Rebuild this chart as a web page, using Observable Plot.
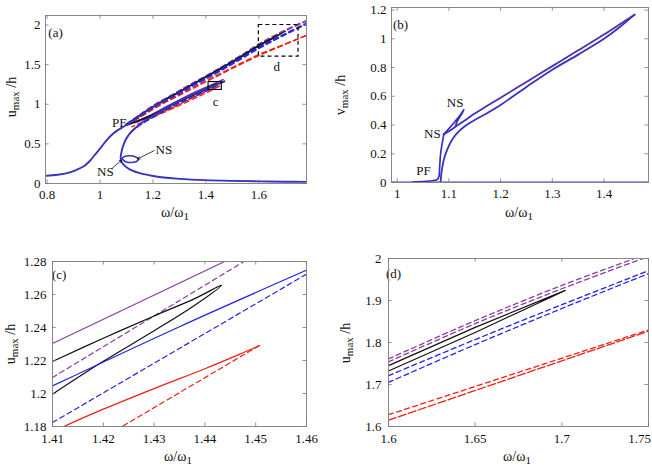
<!DOCTYPE html>
<html><head><meta charset="utf-8">
<script src="https://cdn.jsdelivr.net/npm/d3@7"></script>
<script src="https://cdn.jsdelivr.net/npm/@observablehq/plot@0.6"></script>
<style>
html,body{margin:0;padding:0;background:#fff;overflow:hidden;}
#wrap{position:relative;width:652px;height:467px;overflow:hidden;font-family:"Liberation Serif","Times New Roman",serif;}
.panel{position:absolute;}
.lab{position:absolute;font-size:14px;white-space:nowrap;color:#111;line-height:1;}
.ylab{transform:translate(-50%,-50%) rotate(-90deg);}
.xlab{transform:translate(-50%,-50%);}
.lab sub{font-size:11px;vertical-align:-3px;line-height:0;}
</style></head>
<body><div id="wrap"></div>
<script>
// ---------- tick labels ----------
const aTicksX = [0.8, 1, 1.2, 1.4, 1.6];
const aTicksY = [0, 0.5, 1, 1.5, 2];
const bTicksX = [1, 1.1, 1.2, 1.3, 1.4];
const bTicksY = [0, 0.2, 0.4, 0.6, 0.8, 1, 1.2];
const cTicksX = [1.41, 1.42, 1.43, 1.44, 1.45, 1.46];
const cTicksY = [1.18, 1.2, 1.22, 1.24, 1.26, 1.28];
const dTicksX = [1.6, 1.65, 1.7, 1.75];
const dTicksY = [1.6, 1.7, 1.8, 1.9, 2];

// ---------- panel (a) data ----------
const aMainLeft = [[0.794,0.096],[0.84,0.11],[0.88,0.135],[0.91,0.17],[0.94,0.22],[0.963,0.29],[0.98,0.36],[1.0,0.44],[1.026,0.55],[1.05,0.63],[1.07,0.68],[1.09,0.72],[1.12,0.78],[1.15,0.853],[1.2,0.962],[1.25,1.058]];
const aUx      = [1.1, 1.15, 1.2, 1.25, 1.3, 1.35, 1.4, 1.45, 1.5, 1.55, 1.6, 1.65, 1.7, 1.75, 1.78];
const aPurple1 = [0.75, 0.867, 0.982, 1.077, 1.172, 1.267, 1.357, 1.452, 1.552, 1.652, 1.761, 1.852, 1.936, 2.012, 2.055];
const aPurple2 = [0.748, 0.862, 0.977, 1.072, 1.167, 1.262, 1.351, 1.446, 1.546, 1.646, 1.754, 1.845, 1.928, 2.004, 2.048];
const aBlue1   = [0.745, 0.855, 0.965, 1.058, 1.15, 1.243, 1.332, 1.425, 1.522, 1.622, 1.721, 1.807, 1.89, 1.971, 2.02];
const aBlue2   = [0.742, 0.85, 0.958, 1.05, 1.14, 1.232, 1.32, 1.412, 1.508, 1.607, 1.705, 1.795, 1.881, 1.964, 2.012];
const aRed1    = [0.745, 0.84, 0.945, 1.04, 1.125, 1.21, 1.295, 1.38, 1.465, 1.547, 1.628, 1.695, 1.762, 1.83, 1.87];
const aRed2    = [0.742, 0.835, 0.935, 1.03, 1.113, 1.198, 1.283, 1.367, 1.452, 1.534, 1.615, 1.686, 1.756, 1.827, 1.866];
const aBlackOuter = [[1.1,0.747],[1.2,0.972],[1.3,1.162],[1.4,1.352],[1.5,1.54],[1.6,1.745],[1.65,1.836],[1.702,1.924],[1.65,1.824],[1.6,1.732],[1.5,1.528],[1.4,1.34],[1.3,1.15],[1.2,0.962],[1.1,0.745]];
const aInPurple  = [[1.1,0.742],[1.15,0.8],[1.2,0.88],[1.25,0.97],[1.3,1.055],[1.35,1.14],[1.41,1.23],[1.444,1.28],[1.465,1.31]];
const aInPurpleD = [[1.465,1.31],[1.4477,1.28],[1.41,1.21],[1.35,1.118],[1.3,1.035],[1.25,0.95],[1.2,0.865],[1.15,0.785],[1.1,0.738]];
const aInBlack   = [[1.1,0.742],[1.2,0.875],[1.3,1.048],[1.41,1.219],[1.444,1.266],[1.41,1.2],[1.3,1.03],[1.2,0.862],[1.1,0.738]];
const aInRed     = [[1.1,0.738],[1.2,0.85],[1.3,1.0],[1.38,1.132],[1.412,1.18],[1.43,1.203],[1.451,1.229]];
const aInRedD    = [[1.451,1.229],[1.424,1.18],[1.38,1.11],[1.3,0.985],[1.2,0.835],[1.12,0.715]];
const aInBlueD   = [[1.47,1.29],[1.46,1.272],[1.41,1.183],[1.35,1.09],[1.3,1.015],[1.25,0.93],[1.2,0.835],[1.16,0.755],[1.13,0.685],[1.115,0.64]];
const aFold = [[1.47,1.29],[1.46,1.275],[1.41,1.205],[1.35,1.125],[1.3,1.045],[1.25,0.955],[1.2,0.855],[1.16,0.77],[1.13,0.69],[1.11,0.62],[1.095,0.54],[1.085,0.45],[1.08,0.38],[1.078,0.33],[1.08,0.28],[1.09,0.235],[1.1,0.205],[1.12,0.165],[1.15,0.13],[1.2,0.095],[1.25,0.072],[1.3,0.058],[1.4,0.042],[1.5,0.033],[1.6,0.027],[1.7,0.023],[1.78,0.02]];
const aLoop = [[1.083,0.32],[1.095,0.343],[1.113,0.35],[1.13,0.342],[1.142,0.32],[1.144,0.297],[1.135,0.275],[1.117,0.265],[1.1,0.272],[1.088,0.295],[1.083,0.32]];
const aBoxC = [1.41, 1.46, 1.18, 1.28];
const aBoxD = [1.6, 1.75, 1.6, 2.0];
const aLabels = [
  {x:0.832, y:1.9, t:"(a)", a:"start"},
  {x:1.0725, y:0.768, t:"PF", a:"middle"},
  {x:1.02, y:0.146, t:"NS", a:"middle"},
  {x:1.241, y:0.427, t:"NS", a:"middle"},
  {x:1.437, y:1.026, t:"c", a:"middle"},
  {x:1.668, y:1.47, t:"d", a:"middle"}
];
const aArrows = [
  {x1:1.2045, y1:0.415, x2:1.142, y2:0.31},
  {x1:1.045, y1:0.19, x2:1.082, y2:0.295}
];

// ---------- panel (b) data ----------
const bBase = [[0.989,0.0],[1.486,0.0]];
const bSteep = [[1.03,0.003],[1.055,0.008],[1.07,0.014],[1.078,0.022],[1.081,0.045],[1.082,0.1],[1.084,0.2],[1.087,0.27],[1.09,0.335]];
const bZig = [[1.09,0.335],[1.1,0.375],[1.112,0.425],[1.122,0.47],[1.129,0.508],[1.126,0.485],[1.121,0.455],[1.116,0.425],[1.113,0.395]];
const bUpper = [[1.09,0.335],[1.1,0.357],[1.108,0.376],[1.115,0.395],[1.13,0.43],[1.15,0.48],[1.17,0.525],[1.2,0.59],[1.25,0.7],[1.3,0.81],[1.35,0.92],[1.4,1.03],[1.43,1.1],[1.459,1.168]];
const bLower = [[1.084,0.0],[1.085,0.05],[1.087,0.1],[1.091,0.17],[1.097,0.23],[1.105,0.29],[1.115,0.34],[1.13,0.39],[1.15,0.435],[1.17,0.475],[1.2,0.54],[1.25,0.665],[1.3,0.785],[1.35,0.89],[1.4,1.0],[1.43,1.08],[1.459,1.168]];
const bLabels = [
  {x:1.0064, y:1.1, t:"(b)", a:"start"},
  {x:1.112, y:0.555, t:"NS", a:"middle"},
  {x:1.068, y:0.339, t:"NS", a:"middle"},
  {x:1.051, y:0.078, t:"PF", a:"middle"}
];

// ---------- panel (c) data ----------
const cPurple  = [[1.41,1.2303],[1.4439,1.28]];
const cPurpleD = [[1.41,1.2097],[1.4477,1.28]];
const cBlack   = [[1.41,1.2194],[1.42,1.2335],[1.43,1.247],[1.438,1.2575],[1.4433,1.2657],[1.438,1.2535],[1.43,1.238],[1.42,1.2195],[1.41,1.1996]];
const cBlue    = [[1.41,1.2046],[1.435,1.2405],[1.46,1.2747]];
const cBlueD   = [[1.41,1.1824],[1.46,1.2723]];
const cRed     = [[1.4122,1.18],[1.42,1.1905],[1.43,1.203],[1.44,1.215],[1.447,1.224],[1.4507,1.229]];
const cRedD    = [[1.4507,1.229],[1.4237,1.18]];
const cLabels  = [{x:1.4113, y:1.272, t:"(c)", a:"start"}];

// ---------- panel (d) data ----------
const dPurpleA = [[1.6,1.761],[1.65,1.852],[1.7,1.936],[1.742,2.0],[1.75,2.012]];
const dPurpleB = [[1.6,1.754],[1.65,1.845],[1.7,1.928],[1.747,2.0],[1.75,2.004]];
const dBlack   = [[1.6,1.745],[1.65,1.836],[1.702,1.924],[1.65,1.824],[1.6,1.732]];
const dBlueA   = [[1.6,1.721],[1.65,1.807],[1.7,1.89],[1.75,1.971]];
const dBlueB   = [[1.6,1.705],[1.65,1.795],[1.7,1.881],[1.75,1.964]];
const dRedA    = [[1.6,1.628],[1.75,1.83]];
const dRedB    = [[1.6,1.615],[1.75,1.827]];
const dLabels  = [{x:1.6029, y:1.964, t:"(d)", a:"start"}];

// ---------- styles ----------
const BLUEMAIN = "#3632c2", BLUE = "#2424e6", PURPLE = "#8a3f9e", RED = "#ec2018", BLACK = "#111";
const DASH = "5,3.5";
const FS = 13;

const zip = (xs, ys) => xs.map((x, i) => [x, ys[i]]);
const L = (pts, stroke, w, dash, curve = "catmull-rom") =>
  Plot.line(pts, {x: d => d[0], y: d => d[1], stroke, strokeWidth: w, strokeDasharray: dash, curve, clip: true});
const T = (labs) => Plot.text(labs, {x: "x", y: "y", text: "t", textAnchor: d => d.a, fontSize: FS, fill: "#111"});

function innerTicks(xt, yt, xd, yd) {
  const lx = (yd[1] - yd[0]) * 0.022, ly = (xd[1] - xd[0]) * 0.014;
  const s = {stroke: "#777", strokeWidth: 0.8};
  return [
    Plot.ruleX(xt, {x: d => d, y1: yd[0], y2: yd[0] + lx, ...s}),
    Plot.ruleX(xt, {x: d => d, y1: yd[1] - lx, y2: yd[1], ...s}),
    Plot.ruleY(yt, {y: d => d, x1: xd[0], x2: xd[0] + ly, ...s}),
    Plot.ruleY(yt, {y: d => d, x1: xd[1] - ly, x2: xd[1], ...s})
  ];
}

function panel(o) {
  const fmt = d => String(d);
  const xAxes = o.lastShift
    ? [Plot.axisX(o.xt.slice(0, -1), {tickSize: 0, tickPadding: o.px, tickFormat: fmt, label: null, fontSize: FS}),
       Plot.axisX(o.xt.slice(-1), {tickSize: 0, tickPadding: o.px, tickFormat: fmt, label: null, fontSize: FS, dx: o.lastShift})]
    : [Plot.axisX(o.xt, {tickSize: 0, tickPadding: o.px, tickFormat: fmt, label: null, fontSize: FS})];
  const svg = Plot.plot({
    width: o.w, height: o.h,
    marginLeft: o.ml, marginRight: o.mr, marginTop: o.mt, marginBottom: o.mb,
    x: {domain: o.xd, label: null},
    y: {domain: o.yd, label: null},
    style: {fontFamily: '"Liberation Serif","Times New Roman",serif', fontSize: FS + "px", background: "transparent", overflow: "visible", color: "#111"},
    marks: [
      ...o.marks,
      Plot.frame({stroke: "#888", strokeWidth: 1}),
      ...innerTicks(o.xt, o.yt, o.xd, o.yd),
      ...xAxes,
      Plot.axisY(o.yt, {tickSize: 0, tickPadding: o.py, tickFormat: fmt, label: null, fontSize: FS})
    ]
  });
  const div = document.createElement("div");
  div.className = "panel";
  div.style.left = o.left + "px";
  div.style.top = o.top + "px";
  div.appendChild(svg);
  document.getElementById("wrap").appendChild(div);
}

function label(html, x, y, cls) {
  const d = document.createElement("div");
  d.className = "lab " + cls;
  d.style.left = x + "px";
  d.style.top = y + "px";
  d.innerHTML = html;
  document.getElementById("wrap").appendChild(d);
}

// ---------- panel (a) ----------
panel({
  left: 0, top: 0, w: 326, h: 230, ml: 45, mr: 20, mt: 15, mb: 47,
  xd: [0.794, 1.78], yd: [0, 2.12], xt: aTicksX, yt: aTicksY, px: 6, py: 5,
  marks: [
    L(zip(aUx, aRed1), RED, 1.4, DASH),
    L(zip(aUx, aRed2), RED, 1.4, DASH),
    L(aInRed, RED, 1.3),
    L(aInRedD, RED, 1.3, DASH),
    L(zip(aUx, aPurple1), PURPLE, 1.6, DASH),
    L(zip(aUx, aPurple2), PURPLE, 1.6, DASH),
    L(aInPurple, PURPLE, 1.3),
    L(aInPurpleD, PURPLE, 1.3, DASH),
    L(aBlackOuter, BLACK, 1.1),
    L(aInBlack, BLACK, 1.1),
    L(zip(aUx, aBlue1), BLUE, 1.7, DASH),
    L(zip(aUx, aBlue2), BLUE, 1.7, DASH),
    L(aInBlueD, BLUE, 1.4, DASH),
    L(aMainLeft, BLUEMAIN, 1.9),
    L(aFold, BLUEMAIN, 1.9),
    L(aLoop, BLUEMAIN, 1.6),
    Plot.rect([aBoxC], {x1: d => d[0], x2: d => d[1], y1: d => d[2], y2: d => d[3], fill: "none", stroke: "#000", strokeWidth: 1.1}),
    Plot.rect([aBoxD], {x1: d => d[0], x2: d => d[1], y1: d => d[2], y2: d => d[3], fill: "none", stroke: "#000", strokeWidth: 1.2, strokeDasharray: "4,3"}),
    Plot.arrow(aArrows, {x1: "x1", y1: "y1", x2: "x2", y2: "y2", stroke: "#111", strokeWidth: 0.8, headLength: 5}),
    T(aLabels)
  ]
});

// ---------- panel (b) ----------
panel({
  left: 330, top: 0, w: 322, h: 230, ml: 61, mr: 4, mt: 7, mb: 48,
  xd: [0.989, 1.486], yd: [0, 1.218], xt: bTicksX, yt: bTicksY, px: 6, py: 5,
  marks: [
    L(bBase, BLUEMAIN, 1.9, undefined, "linear"),
    L(bSteep, BLUEMAIN, 1.7),
    L(bZig, BLUEMAIN, 1.7),
    L(bUpper, BLUEMAIN, 1.8),
    L(bLower, BLUEMAIN, 1.8),
    L(bUpper.slice(6), RED, 0.6, "2,4"),
    T(bLabels)
  ]
});

// ---------- panel (c) ----------
panel({
  left: 0, top: 240, w: 326, h: 227, ml: 52, mr: 20, mt: 21, mb: 41,
  xd: [1.41, 1.46], yd: [1.18, 1.28], xt: cTicksX, yt: cTicksY, px: 7, py: 6,
  marks: [
    L(cPurple, PURPLE, 1.2),
    L(cPurpleD, PURPLE, 1.2, DASH),
    L(cBlack, BLACK, 1.2),
    L(cBlue, BLUE, 1.2),
    L(cBlueD, BLUE, 1.2, DASH),
    L(cRed, RED, 1.3),
    L(cRedD, RED, 1.2, DASH),
    T(cLabels)
  ]
});

// ---------- panel (d) ----------
panel({
  left: 330, top: 240, w: 322, h: 227, ml: 58, mr: 4, mt: 18, mb: 41,
  xd: [1.6, 1.75], yd: [1.6, 2.0], xt: dTicksX, yt: dTicksY, px: 7, py: 7, lastShift: -9,
  marks: [
    L(dRedA, RED, 1.3, DASH, "linear"),
    L(dRedB, RED, 1.3, "8,2.5", "linear"),
    L(dBlueA, BLUE, 1.3, DASH),
    L(dBlueB, BLUE, 1.3, DASH),
    L(dPurpleA, PURPLE, 1.3, DASH),
    L(dPurpleB, PURPLE, 1.3, DASH),
    L(dBlack, BLACK, 1.2, undefined, "linear"),
    T(dLabels)
  ]
});

// ---------- axis titles ----------
const uLab = "u<sub>max</sub> /h", vLab = "v<sub>max</sub> /h", wLab = "&omega;/&omega;<sub>1</sub>";
label(uLab, 12, 97, "ylab");
label(wLab, 175, 213, "xlab");
label(vLab, 341, 95, "ylab");
label(wLab, 519, 213, "xlab");
label(uLab, 11, 344, "ylab");
label(wLab, 178, 457, "xlab");
label(uLab, 346, 343, "ylab");
label(wLab, 517, 457, "xlab");
</script>
</body></html>
